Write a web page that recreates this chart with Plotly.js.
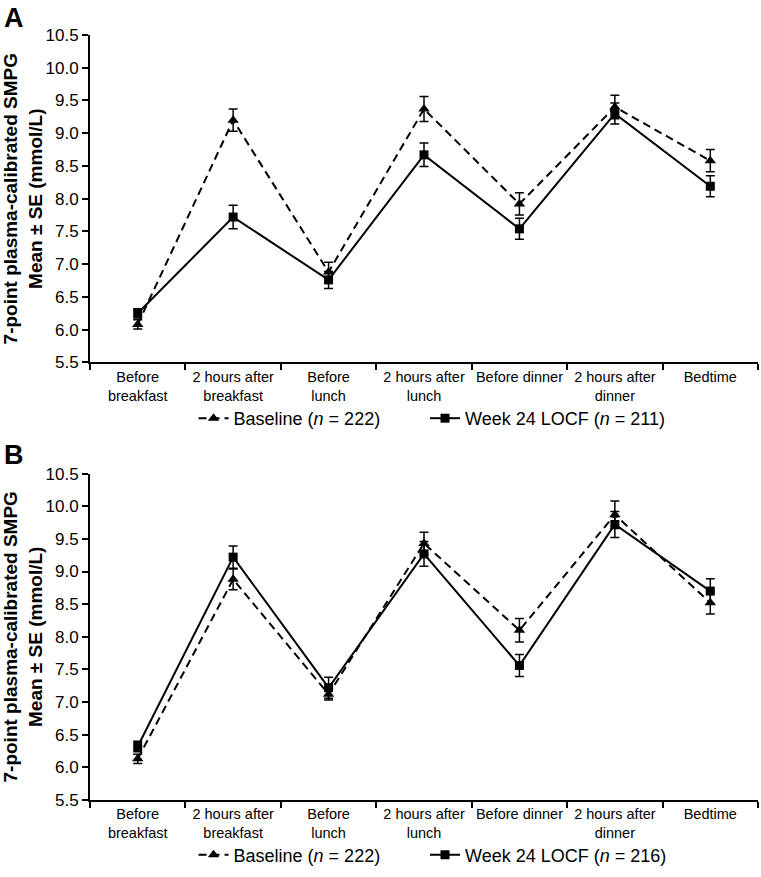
<!DOCTYPE html>
<html>
<head>
<meta charset="utf-8">
<script src="https://cdn.plot.ly/plotly-3.0.1.min.js"></script>
<style>html,body{margin:0;padding:0;background:#fff;}#chart{width:761px;height:877px;}</style>
</head>
<body>
<div id="chart"></div>
<script>
const categories = ["Before<br>breakfast", "2 hours after<br>breakfast", "Before<br>lunch", "2 hours after<br>lunch", "Before dinner", "2 hours after<br>dinner", "Bedtime"];
const yTickVals = [5.5, 6.0, 6.5, 7.0, 7.5, 8.0, 8.5, 9.0, 9.5, 10.0, 10.5];

// Panel A
const aBaseline = [6.08, 9.20, 6.88, 9.37, 7.92, 9.40, 8.58];
const aBaselineSE = [0.07, 0.17, 0.15, 0.19, 0.17, 0.18, 0.17];
const aWeek24 = [6.25, 7.72, 6.76, 8.67, 7.54, 9.30, 8.19];
const aWeek24SE = [0.07, 0.18, 0.13, 0.18, 0.16, 0.16, 0.16];

// Panel B
const bBaseline = [6.13, 8.88, 7.12, 9.43, 8.10, 9.87, 8.52];
const bBaselineSE = [0.07, 0.16, 0.09, 0.17, 0.18, 0.21, 0.17];
const bWeek24 = [6.32, 9.22, 7.22, 9.27, 7.56, 9.72, 8.70];
const bWeek24SE = [0.08, 0.17, 0.16, 0.19, 0.17, 0.20, 0.19];

const nameBaseA = "Baseline (<i>n</i> = 222)";
const nameWeekA = "Week 24 LOCF (<i>n</i> = 211)";
const nameBaseB = "Baseline (<i>n</i> = 222)";
const nameWeekB = "Week 24 LOCF (<i>n</i> = 216)";

const FONT = "'Liberation Sans', Arial, Helvetica, sans-serif";

function tr(y, se, name, dashed, xa, ya, leg) {
  return {
    type: 'scatter', mode: 'lines+markers',
    x: categories, y: y, name: name,
    xaxis: xa, yaxis: ya, legend: leg,
    line: {color: '#000', width: 2, dash: dashed ? '8px,5px' : 'solid'},
    marker: {symbol: dashed ? 'triangle-up' : 'square', size: dashed ? 10 : 9, color: '#000'},
    error_y: {type: 'data', array: se, visible: true, color: '#000', thickness: 1.5, width: 4.5},
    cliponaxis: false
  };
}

const data = [
  tr(aBaseline, aBaselineSE, nameBaseA, true, 'x', 'y', 'legend'),
  tr(aWeek24, aWeek24SE, nameWeekA, false, 'x', 'y', 'legend3'),
  tr(bBaseline, bBaselineSE, nameBaseB, true, 'x2', 'y2', 'legend2'),
  tr(bWeek24, bWeek24SE, nameWeekB, false, 'x2', 'y2', 'legend4')
];

function xax(anchor) {
  return {
    anchor: anchor, domain: [0, 1], type: 'category',
    range: [-0.5, 6.5], tickson: 'boundaries', tickangle: 0,
    ticks: 'outside', ticklen: 6, tickwidth: 2, tickcolor: '#000',
    showline: true, linewidth: 2, linecolor: '#000',
    showgrid: false, zeroline: false, automargin: false,
    tickfont: {family: FONT, size: 14.5, color: '#000'}
  };
}
function yax(anchor, domain) {
  return {
    anchor: anchor, domain: domain,
    range: [5.5, 10.5], tickmode: 'array', tickvals: yTickVals, tickformat: '.1f',
    ticks: 'outside', ticklen: 6, tickwidth: 2, tickcolor: '#000',
    showline: true, linewidth: 2, linecolor: '#000',
    showgrid: false, zeroline: false, automargin: false,
    tickfont: {family: FONT, size: 17, color: '#000'},
    title: {text: '<b>7-point plasma-calibrated SMPG<br>Mean ± SE (mmol/L)</b>', standoff: 4,
            font: {family: FONT, size: 19, color: '#000'}}
  };
}

const legendBase = {
  orientation: 'h', xanchor: 'left', yanchor: 'middle',
  font: {family: FONT, size: 18, color: '#000'},
  bgcolor: 'rgba(0,0,0,0)', borderwidth: 0
};

const layout = {
  width: 761, height: 877,
  margin: {l: 90, r: 3, t: 35, b: 64},
  paper_bgcolor: '#fff', plot_bgcolor: '#fff',
  showlegend: true,
  xaxis: xax('y'),
  yaxis: yax('x', [0.572, 1]),
  xaxis2: xax('y2'),
  yaxis2: yax('x2', [0, 0.4267]),
  legend: Object.assign({}, legendBase, {x: 0.155, y: 0.4987}),
  legend3: Object.assign({}, legendBase, {x: 0.5015, y: 0.4987}),
  legend2: Object.assign({}, legendBase, {x: 0.155, y: -0.072}),
  legend4: Object.assign({}, legendBase, {x: 0.5015, y: -0.072}),
  annotations: [
    {text: '<b>A</b>', xref: 'paper', yref: 'paper', x: -0.1317, y: 1.045, xanchor: 'left', yanchor: 'top', showarrow: false, font: {family: FONT, size: 27, color: '#000'}},
    {text: '<b>B</b>', xref: 'paper', yref: 'paper', x: -0.1317, y: 0.4512, xanchor: 'left', yanchor: 'middle', showarrow: false, font: {family: FONT, size: 27, color: '#000'}}
  ]
};

Plotly.newPlot('chart', data, layout, {displayModeBar: false, staticPlot: true});
</script>
</body>
</html>
